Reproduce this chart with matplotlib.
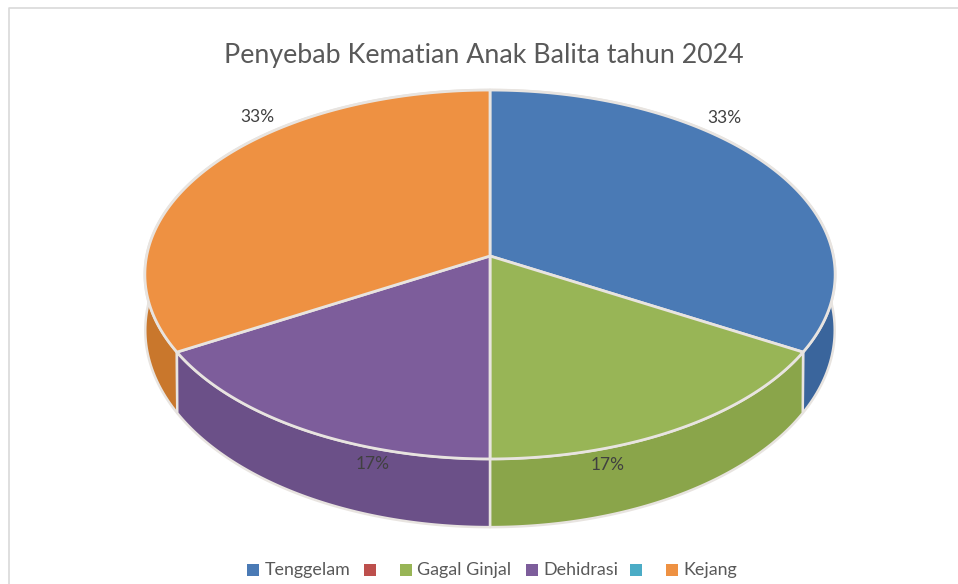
import numpy as np
import matplotlib
matplotlib.use('Agg')
import matplotlib.pyplot as plt
from matplotlib.patches import Polygon, Rectangle

plt.rcParams['font.family'] = ['Lato', 'DejaVu Sans']

judul = 'Penyebab Kematian Anak Balita tahun 2024'
kategori = ['Tenggelam', '', 'Gagal Ginjal', 'Dehidrasi', '', 'Kejang']
nilai = [2, 0, 1, 1, 0, 2]
persen = ['33%', '0%', '17%', '17%', '0%', '33%']
warna = ['#4a7ab5', '#bd4f4c', '#98b556', '#7d5d9b', '#4bacc6', '#ee9142']
warna_sisi = ['#3a659c', '#a03f3c', '#8aa54a', '#6b5088', '#3a90a8', '#c9772c']

# posisi label dan legenda (pixel)
label_xy = [(724, 118), None, (608, 465), (373, 464), None, (257, 117)]
legend_x = [247, 364, 400, 526, 630, 666]

cx, cy = 490, 256
A, B, p = 343.4, 182.6, 0.1003
cy_b, B_b, A_b = 310.5, 194.9, 343


def atas(t):
    X, Y = np.sin(t), np.cos(t)
    w = 1 + p * Y
    return cx + A * X / w, cy - B * Y / w


def bawah(t):
    X, Y = np.sin(t), np.cos(t)
    w = 1 + p * Y
    return cx + A_b * X / w, cy_b - B_b * Y / w


fig = plt.figure(figsize=(9.58, 5.84), dpi=100)
ax = fig.add_axes([0, 0, 1, 1])
ax.set_xlim(0, 958)
ax.set_ylim(584, 0)
ax.axis('off')

# bingkai chart
ax.plot([9.5, 9.5, 958], [584, 7.5, 7.5], color='#d9d9d9', lw=1.2)

sudut = np.concatenate([[0], np.cumsum(nilai)]) / sum(nilai) * 2 * np.pi
tepi = '#e8e4e0'

# sisi samping dulu, lalu permukaan atas
for i in np.argsort([-np.cos((sudut[k] + sudut[k + 1]) / 2) for k in range(len(nilai))]):
    if nilai[i] == 0:
        continue
    t = np.linspace(sudut[i], sudut[i + 1], 120)
    xa, ya = atas(t)
    xb, yb = bawah(t)
    ax.add_patch(Polygon(np.r_[np.c_[xa, ya], np.c_[xb, yb][::-1]], fc=warna_sisi[i], ec=tepi, lw=1.8, joinstyle='round'))

for i in range(len(nilai)):
    if nilai[i] == 0:
        continue
    t = np.linspace(sudut[i], sudut[i + 1], 120)
    xa, ya = atas(t)
    ax.add_patch(Polygon(np.r_[[[cx, cy]], np.c_[xa, ya]], fc=warna[i], ec=tepi, lw=2, joinstyle='round'))

for s, xy in zip(persen, label_xy):
    if xy is not None:
        ax.text(xy[0], xy[1], s, ha='center', va='center', fontsize=12.5, color='#404040')

ax.text(484, 55, judul, ha='center', va='center', fontsize=19.3, color='#595959')

for x0, nama, w in zip(legend_x, kategori, warna):
    ax.add_patch(Rectangle((x0, 564), 12, 12, fc=w, ec='none'))
    if nama:
        ax.text(x0 + 17.5, 570, nama, ha='left', va='center', fontsize=12.9, color='#595959')

fig.savefig('out.png', dpi=100)
